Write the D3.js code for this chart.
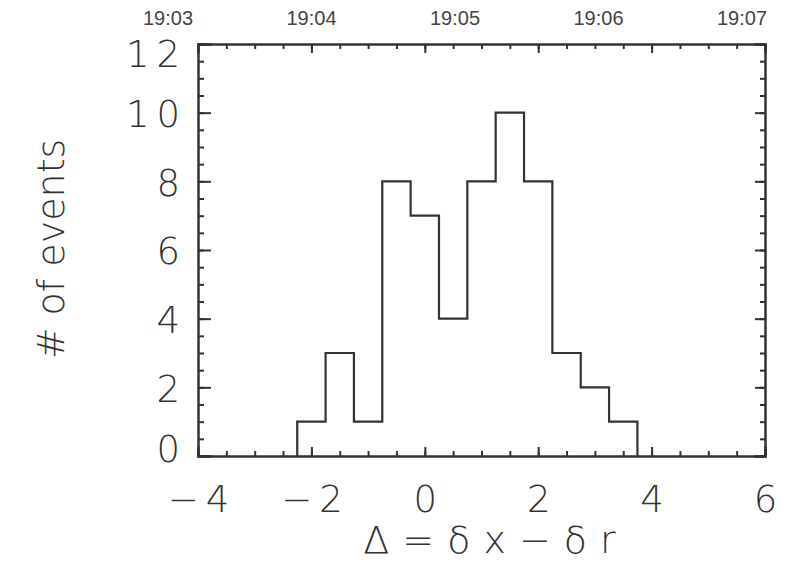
<!DOCTYPE html>
<html>
<head>
<meta charset="utf-8">
<title>Histogram of events</title>
<script src="https://d3js.org/d3.v7.min.js"></script>
<style>
	body {
		margin: 0;
		background: #fff;
	}

	svg text {
		font-family: "DejaVu Sans", sans-serif;
		font-weight: 200;
		fill: #333;
	}

	.axis path,
	.axis line {
		stroke: #333;
		stroke-width: 2px;
	}

	.hist {
		fill: none;
		stroke: #333;
		stroke-width: 2.2px;
	}
</style>
</head>
<body>
<script>
	// bin edges (left edge of every bin) and counts per bin
	var binStarts = [-2.25, -1.75, -1.25, -0.75, -0.25, 0.25, 0.75, 1.25, 1.75, 2.25, 2.75, 3.25];
	var binWidth = 0.5;
	var counts = [1, 3, 1, 8, 7, 4, 8, 10, 8, 3, 2, 1];

	var xTicks = [-4, -2, 0, 2, 4, 6];
	var yTicks = [0, 2, 4, 6, 8, 10, 12];
	var timeLabels = ["19:03", "19:04", "19:05", "19:06", "19:07"];

	var width = 785,
			height = 564,
			margin = { top: 44, right: 20, bottom: 108, left: 198 };

	var svg = d3.select("body").append("svg")
			.attr("width", width)
			.attr("height", height);

	var x = d3.scaleLinear()
			.domain([-4, 6])
			.range([margin.left, width - margin.right]);

	var y = d3.scaleLinear()
			.domain([0, 12])
			.range([height - margin.bottom, margin.top]);

	var minorX = d3.range(-4, 6.01, 0.5),
			minorY = d3.range(0, 12.01, 0.5);

	////////////////////////////////////////////////////////////
	// Axes: minor ticks first, then major ticks with labels
	function drawAxis(axis, pos, cls) {
		return svg.append("g")
				.attr("class", "axis " + cls)
				.attr("transform", pos)
				.call(axis);
	}

	var x0 = "translate(0," + y(0) + ")",
			x1 = "translate(0," + y(12) + ")",
			y0 = "translate(" + x(-4) + ",0)",
			y1 = "translate(" + x(6) + ",0)";

	drawAxis(d3.axisBottom(x).tickValues(minorX).tickSize(-5).tickFormat(""), x0, "minor");
	drawAxis(d3.axisTop(x).tickValues(minorX).tickSize(-5).tickFormat(""), x1, "minor");
	drawAxis(d3.axisLeft(y).tickValues(minorY).tickSize(-6).tickFormat(""), y0, "minor");
	drawAxis(d3.axisRight(y).tickValues(minorY).tickSize(-5).tickFormat(""), y1, "minor");

	var gx = drawAxis(d3.axisBottom(x).tickValues(xTicks).tickSize(-9), x0, "major");
	drawAxis(d3.axisTop(x).tickValues(xTicks).tickSize(-9).tickFormat(""), x1, "major");
	var gy = drawAxis(d3.axisLeft(y).tickValues(yTicks).tickSize(-13).tickPadding(11), y0, "major");
	drawAxis(d3.axisRight(y).tickValues(yTicks).tickSize(-10).tickFormat(""), y1, "major");

	svg.selectAll(".axis .domain").attr("stroke-linecap", "square");

	gx.selectAll("text")
			.attr("font-size", 37)
			.attr("letter-spacing", 7)
			.attr("dx", 3.5)
			.attr("y", 56)
			.attr("dy", 0);

	// end labels sit inside the frame, as in the original plot
	gy.selectAll("text")
			.attr("font-size", 37)
			.attr("letter-spacing", 7)
			.attr("y", function(d) { return d === 12 ? 11 : d === 0 ? -6 : 2; });

	////////////////////////////////////////////////////////////
	// Histogram outline
	var pts = [[binStarts[0], 0]];
	binStarts.forEach(function(b, i) {
		pts.push([b, counts[i]]);
		pts.push([b + binWidth, counts[i]]);
	});
	pts.push([binStarts[binStarts.length - 1] + binWidth, 0]);

	var line = d3.line()
			.x(function(d) { return x(d[0]); })
			.y(function(d) { return y(d[1]); });

	svg.append("path")
			.attr("class", "hist")
			.attr("d", line(pts));

	////////////////////////////////////////////////////////////
	// Titles
	svg.append("text")
			.attr("transform", "translate(64,249) rotate(-90)")
			.attr("text-anchor", "middle")
			.attr("font-size", 38)
			.text("# of events");

	svg.append("text")
			.attr("x", 496)
			.attr("y", 553)
			.attr("text-anchor", "middle")
			.attr("font-size", 38)
			.attr("letter-spacing", 13)
			.text("\u0394=\u03b4x\u2212\u03b4r");

	// timestamp strip along the top
	var t = d3.scalePoint()
			.domain(timeLabels)
			.range([168, 742]);

	svg.append("g")
		.selectAll("text")
		.data(timeLabels)
		.enter().append("text")
			.attr("x", function(d) { return t(d); })
			.attr("y", 25)
			.attr("text-anchor", "middle")
			.attr("font-size", 20)
			.style("font-family", "'Liberation Sans', sans-serif")
			.style("font-weight", 400)
			.style("fill", "#444")
			.text(function(d) { return d; });
</script>
</body>
</html>
